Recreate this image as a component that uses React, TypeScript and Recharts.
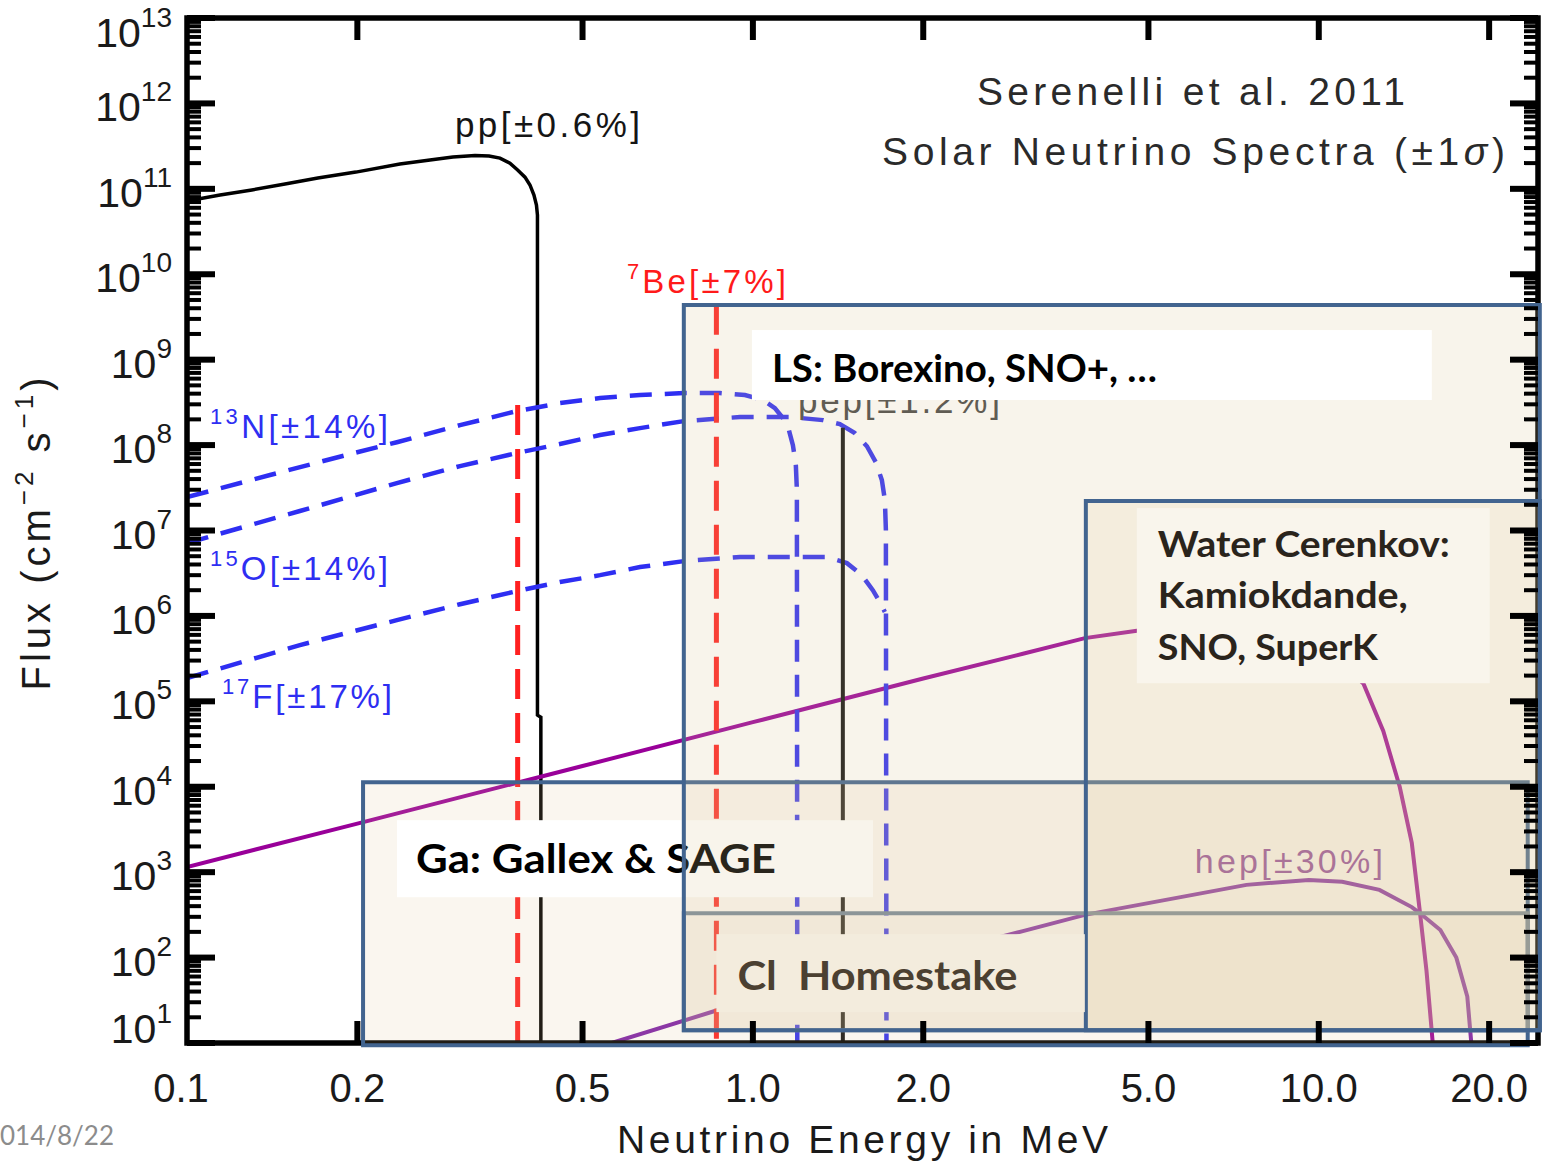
import React from 'react';
import { ComposedChart, Line, XAxis, YAxis, ReferenceArea, ReferenceDot } from 'recharts';

// ---------- layout ----------
const CHART_W = 1542;
const CHART_H = 1163;
const PLOT_LEFT = 187;
const PLOT_TOP = 18;
const PLOT_RIGHT = 1538;
const PLOT_BOTTOM = 1043;
const YAXIS_W = 110;
const XAXIS_H = 80;

const X_DOMAIN: [number, number] = [0.1, 24.4];
const Y_DOMAIN: [number, number] = [10, 1e13];

// ---------- ticks ----------
const xTickValues = [0.1, 0.2, 0.5, 1, 2, 5, 10, 20];
const xTickLabels = ['0.1', '0.2', '0.5', '1.0', '2.0', '5.0', '10.0', '20.0'];
const yDecadeExponents = [1, 2, 3, 4, 5, 6, 7, 8, 9, 10, 11, 12, 13];
const yMinorMultipliers = [2, 3, 4, 5, 6, 7, 8, 9];

// ---------- spectra (energy in MeV, flux in cm^-2 s^-1) ----------
const ppEnergy = [0.1, 0.1144, 0.1302, 0.149, 0.1703, 0.1988, 0.2378, 0.2688, 0.295, 0.3228, 0.3418, 0.3573, 0.3721, 0.3839, 0.3956, 0.4037, 0.4103, 0.4145, 0.4162, 0.4162, 0.422, 0.422];
const ppFlux = [7.2e10, 8.45e10, 9.7e10, 1.14e11, 1.34e11, 1.57e11, 1.95e11, 2.17e11, 2.36e11, 2.45e11, 2.42e11, 2.29e11, 2.0e11, 1.66e11, 1.37e11, 1.11e11, 8.45e10, 6.46e10, 4.93e10, 6.9e4, 6.5e4, 10];

const be7LineEnergy = [0.384, 0.862];
const be7LineFlux = [2.95e8, 4.4e9];

const n13Energy = [0.1, 0.1402, 0.194, 0.2349, 0.3037, 0.3826, 0.456, 0.5369, 0.6316, 0.7553, 0.8744, 0.968, 1.0415, 1.0936, 1.1298, 1.1577, 1.1768, 1.191, 1.196, 1.198];
const n13Flux = [2.46e7, 4.46e7, 7.85e7, 1.08e8, 1.71e8, 2.5e8, 3.1e8, 3.55e8, 3.85e8, 4.06e8, 4.06e8, 3.85e8, 3.37e8, 2.71e8, 2.07e8, 1.5e8, 1.0e8, 5.8e7, 2.97e7, 10];

const o15Energy = [0.1, 0.1583, 0.2349, 0.3037, 0.3826, 0.456, 0.5369, 0.6316, 0.7553, 0.9485, 1.1626, 1.3297, 1.4244, 1.514, 1.5904, 1.649, 1.69, 1.711, 1.718, 1.722];
const o15Flux = [7.13e6, 1.69e7, 3.59e7, 5.68e7, 8.06e7, 1.03e8, 1.31e8, 1.58e8, 1.91e8, 2.13e8, 2.13e8, 1.96e8, 1.76e8, 1.38e8, 9.7e7, 6.3e7, 3.9e7, 2.27e7, 1.01e7, 10];

const f17Energy = [0.1, 0.1583, 0.2349, 0.3037, 0.3826, 0.456, 0.5369, 0.6316, 0.7553, 0.9485, 1.351, 1.466, 1.558, 1.629, 1.677, 1.711];
const f17Flux = [1.87e5, 4.55e5, 8.93e5, 1.37e6, 1.95e6, 2.49e6, 3.0e6, 3.73e6, 4.38e6, 4.89e6, 4.89e6, 4.15e6, 3.0e6, 2.0e6, 1.45e6, 1.11e6];

const pepLineEnergy = 1.442;
const pepLineFlux = 1.6e8;

const b8Energy = [0.1, 0.2, 0.5, 1.0, 2.0, 3.0, 3.86, 4.77, 6.0, 7.5, 9.0, 10.5, 12.0, 13.0, 13.9, 14.6, 15.1, 15.5, 15.9];
const b8Flux = [1.15e3, 3.7e3, 1.75e4, 5.7e4, 1.85e5, 3.6e5, 5.5e5, 6.7e5, 7.7e5, 7.6e5, 6.0e5, 3.6e5, 1.6e5, 4.5e4, 1.0e4, 2.2e3, 330, 70, 10];

const hepEnergy = [0.563, 0.862, 1.3, 2.0, 3.0, 3.86, 5.7, 7.45, 9.6, 11.0, 12.8, 14.6, 15.1, 16.4, 17.5, 18.3, 18.6];
const hepFlux = [10, 24, 49, 102, 204, 316, 510, 710, 810, 770, 620, 390, 330, 210, 100, 35, 10];

// ---------- spectrum labels (anchored at text start / baseline) ----------
const specLabelSup = ['', '7', '13', '15', '17', '', ''];
const specLabelMain = ['pp[±0.6%]', 'Be[±7%]', 'N[±14%]', 'O[±14%]', 'F[±17%]', 'pep[±1.2%]', 'hep[±30%]'];
const specLabelEnergy = [0.2975, 0.599, 0.1098, 0.1098, 0.1153, 1.201, 6.04];
const specLabelFlux = [4.05e11, 6.03e9, 1.21e8, 2.62e6, 8.3e4, 2.37e8, 973];

// ---------- detector regions ----------
const detectorNames = ['Ga', 'Cl', 'LS', 'Water'];
const detectorEnergyMin = [0.2047, 0.755, 0.755, 3.876];
const detectorEnergyMax = [23.4, 23.4, 24.58, 24.58];
const detectorFluxMin = [9.4, 14.1, 14.1, 14.1];
const detectorFluxMax = [1.13e4, 331, 4.36e9, 2.21e7];

const detectorLabelLines = [
  ['Ga: Gallex & SAGE'],
  ['Cl\u00a0\u00a0Homestake'],
  ['LS: Borexino, SNO+, …'],
  ['Water Cerenkov:', 'Kamiokdande,', 'SNO, SuperK'],
];
const detectorLabelEnergyMin = [0.235, 0.862, 0.996, 4.77];
const detectorLabelEnergyMax = [1.63, 3.86, 15.84, 20.05];
const detectorLabelFluxMin = [509, 23, 3.37e8, 1.63e5];
const detectorLabelFluxMax = [4.06e3, 188, 2.22e9, 1.83e7];

// ---------- styles ----------
const IDL_FONT = "'Liberation Sans', Arial, sans-serif";
const BOX_FONT = "Lato, 'Open Sans', sans-serif";

const toPoints = (xs: number[], ys: number[]) => xs.map((x, i) => ({ x, y: ys[i] }));
const vLine = (x: number, top: number) => [{ x, y: top }, { x, y: Y_DOMAIN[0] }];

const specLabelStyle = [
  { color: '#151515', size: 35, width: 185 },
  { color: '#ff1a1a', size: 33, width: 159 },
  { color: '#2e2ef2', size: 33, width: 178 },
  { color: '#2e2ef2', size: 33, width: 178 },
  { color: '#2e2ef2', size: 33, width: 170 },
  { color: '#444444', size: 35, width: 202 },
  { color: '#8a3a9e', size: 34, width: 188 },
];

const detectorStyle = [
  { fill: '#dcc594', opacity: 0.15, stroke: '#42648f', z: 500 },
  { fill: '#dcc594', opacity: 0.08, stroke: '#7b8a99', z: 520 },
  { fill: '#dcc594', opacity: 0.19, stroke: '#42648f', z: 530 },
  { fill: '#e0c68e', opacity: 0.15, stroke: '#42648f', z: 550 },
];

const labelStyle = [
  { bg: '#ffffff', color: '#000000', size: 40, padX: 19, baselines: [53], lengths: [360], z: 510 },
  { bg: '#f3ecdd', color: '#4b4031', size: 40, padX: 21, baselines: [56], lengths: [280], z: 560 },
  { bg: '#ffffff', color: '#000000', size: 38, padX: 20, baselines: [52], lengths: [385], z: 540 },
  { bg: '#f9f5ec', color: '#2a241c', size: 36, padX: 21, baselines: [49, 100, 152], lengths: [292, 250, 220], z: 570 },
];

// ---------- axis tick renderers ----------
function YTick(props: any) {
  const { y, payload } = props;
  const v = payload.value as number;
  const lg = Math.log10(v);
  const exp = Math.round(lg);
  const major = Math.abs(lg - exp) < 1e-6;
  const len = major ? 28 : 14;
  const sw = major ? 6 : 4;
  const baseDy = exp === 13 ? 29 : exp === 1 ? 0 : 18;
  return (
    <g>
      <line x1={PLOT_LEFT} x2={PLOT_LEFT + len} y1={y} y2={y} stroke="#000" strokeWidth={sw} />
      <line x1={PLOT_RIGHT - len} x2={PLOT_RIGHT} y1={y} y2={y} stroke="#000" strokeWidth={sw} />
      {major && (
        <text x={172} y={y + baseDy} textAnchor="end" fontFamily={IDL_FONT} fontSize={41} fill="#1a1a1a">
          <tspan>10</tspan>
          <tspan dy={-20} fontSize={28}>{exp}</tspan>
        </text>
      )}
    </g>
  );
}

function XTick(props: any) {
  const { x, payload } = props;
  const v = payload.value as number;
  const idx = xTickValues.indexOf(v);
  const isEdge = v === X_DOMAIN[0];
  return (
    <g>
      {!isEdge && <line x1={x} x2={x} y1={PLOT_BOTTOM} y2={PLOT_BOTTOM - 22} stroke="#000" strokeWidth={6} />}
      {!isEdge && <line x1={x} x2={x} y1={PLOT_TOP} y2={PLOT_TOP + 22} stroke="#000" strokeWidth={6} />}
      <text x={isEdge ? x - 6 : x} y={1102} textAnchor="middle" fontFamily={IDL_FONT} fontSize={40} fill="#1a1a1a">
        {xTickLabels[idx]}
      </text>
    </g>
  );
}

const makeSpecLabelShape = (i: number) => (props: any) => {
  const { cx, cy } = props;
  const st = specLabelStyle[i];
  const sup = specLabelSup[i];
  const supSize = Math.round(st.size * 0.66);
  const rise = Math.round(st.size * 0.42);
  return (
    <text x={cx} y={cy} fontFamily={IDL_FONT} fontSize={st.size} fill={st.color} textLength={st.width} lengthAdjust="spacing">
      {sup ? <tspan fontSize={supSize} dy={-rise}>{sup}</tspan> : null}
      <tspan dy={sup ? rise : 0}>{specLabelMain[i]}</tspan>
    </text>
  );
};

const makeDetectorLabelShape = (i: number) => (props: any) => {
  const { x, y, width, height } = props;
  const st = labelStyle[i];
  return (
    <g>
      <rect x={x} y={y} width={width} height={height} fill={st.bg} />
      {detectorLabelLines[i].map((line, j) => (
        <text
          key={j}
          x={x + st.padX}
          y={y + st.baselines[j]}
          fontFamily={BOX_FONT}
          fontWeight={700}
          fontSize={st.size}
          fill={st.color}
          textLength={st.lengths[j]}
          lengthAdjust="spacingAndGlyphs"
        >
          {line}
        </text>
      ))}
    </g>
  );
};

const yTickValues: number[] = [];
yDecadeExponents.forEach((n) => {
  yTickValues.push(Math.pow(10, n));
  if (n < 13) yMinorMultipliers.forEach((k) => yTickValues.push(k * Math.pow(10, n)));
});
yTickValues.sort((a, b) => a - b);

const lineCommon = {
  dataKey: 'y',
  type: 'linear' as const,
  dot: false,
  activeDot: false,
  isAnimationActive: false,
  legendType: 'none' as const,
  zIndex: 400,
};

const DetectorBox = (i: number) => (
  <ReferenceArea
    key={`det${i}`}
    x1={detectorEnergyMin[i]}
    x2={detectorEnergyMax[i]}
    y1={detectorFluxMin[i]}
    y2={detectorFluxMax[i]}
    fill={detectorStyle[i].fill}
    fillOpacity={detectorStyle[i].opacity}
    stroke={detectorStyle[i].stroke}
    strokeWidth={4}
    ifOverflow="visible"
    zIndex={detectorStyle[i].z}
    name={detectorNames[i]}
  />
);

const DetectorLabel = (i: number) => (
  <ReferenceArea
    key={`lab${i}`}
    x1={detectorLabelEnergyMin[i]}
    x2={detectorLabelEnergyMax[i]}
    y1={detectorLabelFluxMin[i]}
    y2={detectorLabelFluxMax[i]}
    ifOverflow="visible"
    shape={makeDetectorLabelShape(i)}
    zIndex={labelStyle[i].z}
  />
);

export default function App() {
  return (
    <div style={{ position: 'absolute', left: 0, top: 0, width: CHART_W, height: CHART_H, background: '#fff', overflow: 'hidden' }}>
      <ComposedChart
        width={CHART_W}
        height={CHART_H}
        margin={{ top: PLOT_TOP, right: CHART_W - PLOT_RIGHT, bottom: CHART_H - PLOT_BOTTOM - XAXIS_H, left: PLOT_LEFT - YAXIS_W }}
      >
        <XAxis
          type="number"
          dataKey="x"
          scale="log"
          domain={X_DOMAIN}
          allowDataOverflow
          ticks={xTickValues}
          interval={0}
          tick={XTick}
          tickLine={false}
          axisLine={false}
          height={XAXIS_H}
          zIndex={470}
        />
        <YAxis
          type="number"
          scale="log"
          domain={Y_DOMAIN}
          allowDataOverflow
          ticks={yTickValues}
          interval={0}
          tick={YTick}
          tickLine={false}
          axisLine={false}
          width={YAXIS_W}
          zIndex={470}
        />
        <ReferenceArea
          x1={X_DOMAIN[0]}
          x2={X_DOMAIN[1]}
          y1={Y_DOMAIN[0]}
          y2={Y_DOMAIN[1]}
          fill="none"
          stroke="#000"
          strokeWidth={5.5}
          ifOverflow="visible"
          zIndex={470}
        />

        <Line {...lineCommon} data={toPoints(ppEnergy, ppFlux)} stroke="#000" strokeWidth={3.5} />
        <Line {...lineCommon} data={toPoints(b8Energy, b8Flux)} stroke="#990099" strokeWidth={4} />
        <Line {...lineCommon} data={toPoints(hepEnergy, hepFlux)} stroke="#7d1fa8" strokeWidth={4} />
        <Line {...lineCommon} data={toPoints(n13Energy, n13Flux)} stroke="#2e2ef2" strokeWidth={4.5} strokeDasharray="22 13" />
        <Line {...lineCommon} data={toPoints(o15Energy, o15Flux)} stroke="#2e2ef2" strokeWidth={4.5} strokeDasharray="22 13" />
        <Line {...lineCommon} data={toPoints(f17Energy, f17Flux)} stroke="#2e2ef2" strokeWidth={4.5} strokeDasharray="22 13" />
        <Line {...lineCommon} data={vLine(pepLineEnergy, pepLineFlux)} stroke="#111" strokeWidth={4} />
        {be7LineEnergy.map((e, i) => (
          <Line key={`be${i}`} {...lineCommon} data={vLine(e, be7LineFlux[i])} stroke="#ff2020" strokeWidth={5} strokeDasharray="30 14" />
        ))}

        {specLabelMain.map((_, i) => (
          <ReferenceDot
            key={`sl${i}`}
            x={specLabelEnergy[i]}
            y={specLabelFlux[i]}
            r={1}
            ifOverflow="visible"
            shape={makeSpecLabelShape(i)}
            zIndex={450}
          />
        ))}

        {DetectorBox(0)}
        {DetectorLabel(0)}
        {DetectorBox(1)}
        {DetectorBox(2)}
        {DetectorLabel(2)}
        {DetectorBox(3)}
        {DetectorLabel(1)}
        {DetectorLabel(3)}
      </ComposedChart>

      <svg
        width={CHART_W}
        height={CHART_H}
        style={{ position: 'absolute', left: 0, top: 0, pointerEvents: 'none' }}
      >
        <text x={977} y={105} fontFamily={IDL_FONT} fontSize={39} fill="#2a2a2a" textLength={428} lengthAdjust="spacing">
          Serenelli et al. 2011
        </text>
        <text x={882} y={165} fontFamily={IDL_FONT} fontSize={39} fill="#2a2a2a" textLength={623} lengthAdjust="spacing">
          Solar Neutrino Spectra (±1<tspan fontStyle="italic">σ</tspan>)
        </text>
        <text x={617} y={1153} fontFamily={IDL_FONT} fontSize={39} fill="#1a1a1a" textLength={491} lengthAdjust="spacing">
          Neutrino Energy in MeV
        </text>
        <text
          transform="translate(50, 532) rotate(-90)"
          textAnchor="middle"
          fontFamily={IDL_FONT}
          fontSize={40}
          fill="#1a1a1a"
          letterSpacing={4}
        >
          Flux (cm<tspan dy={-17} fontSize={26}>−2</tspan>
          <tspan dy={17}> s</tspan>
          <tspan dy={-17} fontSize={26}>−1</tspan>
          <tspan dy={17}>)</tspan>
        </text>
        <text x={114} y={1145} textAnchor="end" fontFamily={BOX_FONT} fontSize={26} fill="#8c8c8c">
          2014/8/22
        </text>
      </svg>
    </div>
  );
}
